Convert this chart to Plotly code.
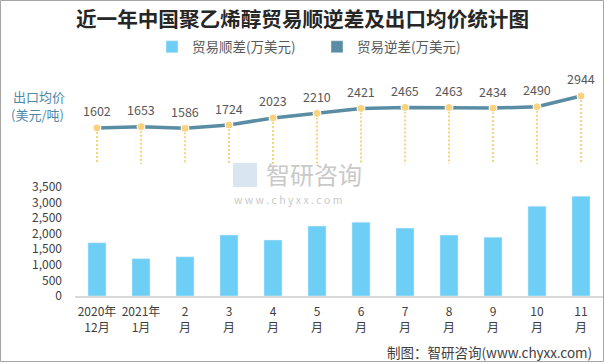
import plotly.graph_objects as go

categories = ["2020年<br>12月", "2021年<br>1月", "2<br>月", "3<br>月", "4<br>月", "5<br>月",
              "6<br>月", "7<br>月", "8<br>月", "9<br>月", "10<br>月", "11<br>月"]
trade_surplus = [1710, 1200, 1260, 1960, 1800, 2245, 2370, 2180, 1955, 1890, 2885, 3205]
export_price = [1602, 1653, 1586, 1724, 2023, 2210, 2421, 2465, 2463, 2434, 2490, 2944]
bar_ticks = [0, 500, 1000, 1500, 2000, 2500, 3000, 3500]

BAR_COLOR = "#6DCFF6"
LINE_COLOR = "#5A8CA3"
DOT_COLOR = "#F8D27C"
TEXT = "#404040"
FONT = "Noto Sans CJK SC"

W, H = 605, 363
ML, MR, MT, MB = 75, 2, 20, 20
PW, PH = W - ML - MR, H - MT - MB


def py(pix):
    return (H - MB - pix) / PH


def px(pix):
    return (pix - ML) / PW


line_range = [85, 4457]
x_range = [-0.5, len(categories) - 0.5]

fig = go.Figure()

fig.add_trace(go.Bar(x=categories, y=trade_surplus, name="贸易顺差(万美元)",
                     marker_color=BAR_COLOR, xaxis="x", yaxis="y", hoverinfo="y"))

# legend entry (square swatch as in original)
fig.add_trace(go.Bar(x=[categories[0]], y=[None], name="贸易逆差(万美元)", marker_color=LINE_COLOR,
                     xaxis="x", yaxis="y", hoverinfo="skip"))

# drop lines from each price point down to the bottom of the line panel
for c, v in zip(categories, export_price):
    fig.add_trace(go.Scatter(x=[c, c], y=[v, line_range[0]], mode="lines",
                             line=dict(color=DOT_COLOR, width=2, dash="2px,2px"),
                             xaxis="x2", yaxis="y2", showlegend=False, hoverinfo="skip"))

fig.add_trace(go.Scatter(x=categories, y=export_price, mode="lines+markers",
                         line=dict(color=LINE_COLOR, width=3.5),
                         marker=dict(color=DOT_COLOR, size=8, line=dict(color="white", width=1)),
                         xaxis="x2", yaxis="y2", showlegend=False, name="出口均价"))

annotations = []
for c, v in zip(categories, export_price):
    annotations.append(dict(x=c, y=v, xref="x2", yref="y2", text=str(v), showarrow=False,
                            yshift=17, font=dict(size=12.5, color="#595959", family=FONT)))

annotations += [
    dict(x=px(11), y=py(96), xref="paper", yref="paper", text="出口均价", showarrow=False,
         xanchor="left", yanchor="middle", font=dict(size=13, color="#4F88A6", family=FONT)),
    dict(x=px(9), y=py(114), xref="paper", yref="paper", text="(美元/吨)", showarrow=False,
         xanchor="left", yanchor="middle", font=dict(size=13, color="#4F88A6", family=FONT)),
    dict(x=px(264), y=py(173), xref="paper", yref="paper", text="智研咨询", showarrow=False,
         xanchor="left", yanchor="middle", font=dict(size=24, color="#C9C9C9", family=FONT)),
    dict(x=px(232), y=py(199), xref="paper", yref="paper", text="w w w . c h y x x . c o m",
         showarrow=False, xanchor="left", yanchor="middle",
         font=dict(size=10.5, color="#C9C9C9", family=FONT)),
    dict(x=px(594), y=py(352), xref="paper", yref="paper", text="制图：智研咨询(www.chyxx.com)",
         showarrow=False, xanchor="right", yanchor="middle",
         font=dict(size=13.5, color=TEXT, family=FONT)),
]

shapes = [
    dict(type="rect", xref="paper", yref="paper", x0=px(0.5), x1=px(603.5), y0=py(361.5), y1=py(0.5),
         line=dict(color="#A6A6A6", width=1), fillcolor="rgba(0,0,0,0)", layer="below"),
    dict(type="rect", xref="paper", yref="paper", x0=px(233), x1=px(257), y0=py(187), y1=py(163),
         line=dict(width=0), fillcolor="rgba(170,200,225,0.45)", layer="below"),
]

fig.update_layout(
    width=W, height=H,
    margin=dict(l=ML, r=MR, t=MT, b=MB, autoexpand=False),
    paper_bgcolor="white", plot_bgcolor="white",
    font=dict(family=FONT, color=TEXT),
    title=dict(text="<b>近一年中国聚乙烯醇贸易顺逆差及出口均价统计图</b>", x=0.5, xanchor="center",
               y=1 - 20 / H, yanchor="middle", yref="container",
               font=dict(size=20.6, color="#262626", family=FONT)),
    bargap=0.59,
    barmode="overlay",
    showlegend=True,
    legend=dict(orientation="h", x=px(317), xanchor="center", y=py(47), yanchor="middle",
                font=dict(size=13.5, color="#595959", family=FONT), entrywidth=120,
                itemwidth=30, bgcolor="rgba(0,0,0,0)", traceorder="normal"),
    xaxis=dict(domain=[0, 1], type="category", range=x_range, showgrid=False, showline=True,
               linecolor="#D9D9D9", linewidth=1.5, ticks="", tickangle=0, automargin=False,
               tickfont=dict(size=12, color=TEXT, family=FONT),
               ticklabelstandoff=4, zeroline=False, fixedrange=True),
    yaxis=dict(domain=[py(296), py(187)], range=[0, 3500], tickvals=bar_ticks, tickformat=",",
               showgrid=False, zeroline=False, showline=False, automargin=False,
               tickfont=dict(size=12, color=TEXT, family=FONT), ticklabelstandoff=12),
    xaxis2=dict(domain=[0, 1], type="category", range=x_range, matches="x", visible=False,
                anchor="y2"),
    yaxis2=dict(domain=[py(164), py(60)], range=line_range, visible=False, anchor="x2"),
    annotations=annotations,
    shapes=shapes,
)

fig.write_html("out.html", config={"displayModeBar": False},
               post_script="document.body.style.margin='0';")
